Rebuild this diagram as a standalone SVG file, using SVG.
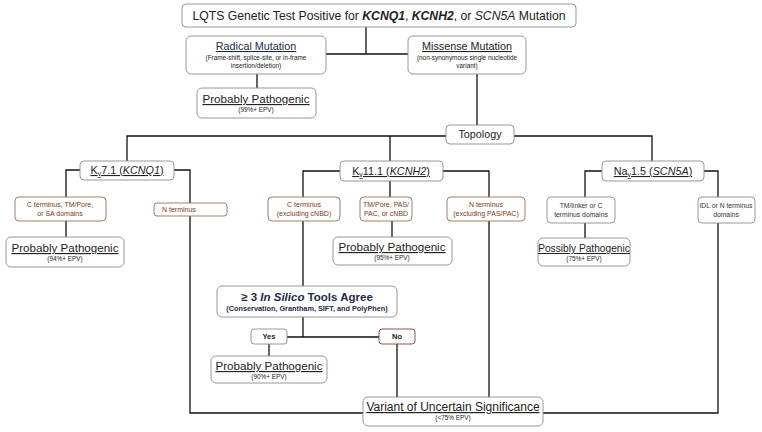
<svg xmlns="http://www.w3.org/2000/svg" width="762" height="432" viewBox="0 0 762 432">
<style>
text{font-family:"Liberation Sans",Arial,sans-serif;fill:#222;text-anchor:middle}
.bx{fill:#fff;stroke:#8c8c8c;stroke-width:0.9}
.br{fill:#fff;stroke:#9b6f55;stroke-width:0.9}
.ln{fill:none;stroke:#111;stroke-width:1.3}
.h{font-size:11.6px;text-decoration:underline}
.s{font-size:6.4px}
.b{font-size:7px;fill:#7a3a12}
.n{font-size:6.8px;fill:#333}
.k{font-size:10.8px;text-decoration:underline}
</style>
<rect width="762" height="432" fill="#fff"/>
<g id="connectors">
<path class="ln" d="M366 27V54M326 54H408M257 74V88M477 74V125"/>
<path class="ln" d="M127 161V136H446M514 136H652V161M390 136V161"/>
<path class="ln" d="M80 170H66V197M66 221V237M174 170H190V413H363"/>
<path class="ln" d="M340 171H303V197M303 221V286M303 317V337M287 337H379M390 181V197M392 221V237M443 171H489V197M489 221V397"/>
<path class="ln" d="M269 344V356M397 344V397"/>
<path class="ln" d="M602 171H585V197M585 223V238M704 171H718V197M718 223V413H543"/>
</g>
<g id="n-top"><rect class="bx" x="182" y="4" width="394" height="23" rx="4"/>
<text x="379" y="20" font-size="12.2">LQTS Genetic Test Positive for <tspan font-weight="bold" font-style="italic">KCNQ1</tspan>, <tspan font-weight="bold" font-style="italic">KCNH2</tspan>, or <tspan font-style="italic">SCN5A</tspan> Mutation</text></g>
<g id="n-radical"><rect class="bx" x="186" y="36" width="140" height="38" rx="5"/>
<text x="256" y="50" font-size="10.8" style="fill:#1c2a4a;text-decoration:underline">Radical Mutation</text>
<text class="s" x="256" y="60">(Frame-shift, splice-site, or in-frame</text>
<text class="s" x="256" y="68">insertion/deletion)</text></g>
<g id="n-missense"><rect class="bx" x="408" y="36" width="118" height="38" rx="5"/>
<text x="467" y="50" font-size="10.8" style="text-decoration:underline">Missense Mutation</text>
<text class="s" x="467" y="60">(non-synonymous single nucleotide</text>
<text class="s" x="467" y="68">variant)</text></g>
<g id="n-pp99"><rect class="bx" x="197" y="88" width="119" height="30" rx="5"/>
<text class="h" x="256" y="103">Probably Pathogenic</text>
<text class="s" x="256" y="112">(99%+ EPV)</text></g>
<g id="n-topology"><rect class="bx" x="446" y="125" width="68" height="19" rx="4"/>
<text x="480" y="138" font-size="10.8">Topology</text></g>
<g id="n-kv71"><rect class="bx" x="80" y="161" width="94" height="19" rx="4"/>
<text class="k" x="127" y="174">K<tspan font-size="7" dy="2">v</tspan><tspan dy="-2">7.1 (</tspan><tspan font-style="italic">KCNQ1</tspan>)</text></g>
<g id="n-kv111"><rect class="bx" x="340" y="161" width="103" height="20" rx="4"/>
<text class="k" x="391" y="175">K<tspan font-size="7" dy="2">v</tspan><tspan dy="-2">11.1 (</tspan><tspan font-style="italic">KCNH2</tspan>)</text></g>
<g id="n-nav15"><rect class="bx" x="602" y="161" width="102" height="20" rx="4"/>
<text class="k" x="653" y="175">Na<tspan font-size="7" dy="2">v</tspan><tspan dy="-2">1.5 (</tspan><tspan font-style="italic">SCN5A</tspan>)</text></g>
<g id="n-kv71-c"><rect class="br" x="15" y="197" width="91" height="24" rx="4"/>
<text class="b" x="60" y="207">C terminus, TM/Pore,</text>
<text class="b" x="60" y="216">or SA domains</text></g>
<g id="n-kv71-n"><rect class="br" x="154" y="203" width="73" height="13" rx="3"/>
<text class="b" x="162" y="212" style="text-anchor:start">N terminus</text></g>
<g id="n-pp94"><rect class="bx" x="6" y="237" width="118" height="30" rx="5"/>
<text class="h" x="65" y="252">Probably Pathogenic</text>
<text class="s" x="65" y="261">(94%+ EPV)</text></g>
<g id="n-kv111-c"><rect class="br" x="268" y="197" width="72" height="24" rx="4"/>
<text class="b" x="304" y="207">C terminus</text>
<text class="b" x="304" y="216">(excluding cNBD)</text></g>
<g id="n-kv111-tm"><rect class="br" x="360" y="197" width="52" height="24" rx="4"/>
<text class="b" x="386" y="207">TM/Pore, PAS/</text>
<text class="b" x="386" y="216">PAC, or cNBD</text></g>
<g id="n-kv111-n"><rect class="br" x="447" y="197" width="78" height="24" rx="4"/>
<text class="b" x="486" y="207">N terminus</text>
<text class="b" x="486" y="216">(excluding PAS/PAC)</text></g>
<g id="n-pp95"><rect class="bx" x="333" y="237" width="119" height="28" rx="5"/>
<text class="h" x="392" y="251">Probably Pathogenic</text>
<text class="s" x="392" y="260">(95%+ EPV)</text></g>
<g id="n-nav-tm"><rect class="bx" x="547" y="197" width="68" height="26" rx="4"/>
<text class="n" x="581" y="208">TM/linker or C</text>
<text class="n" x="581" y="217">terminus domains</text></g>
<g id="n-nav-idl"><rect class="bx" x="698" y="197" width="57" height="26" rx="4"/>
<text class="n" x="726" y="208">IDL or N terminus</text>
<text class="n" x="726" y="217">domains</text></g>
<g id="n-possibly"><rect class="bx" x="538" y="238" width="92" height="28" rx="5"/>
<text x="584" y="252" font-size="10.2" style="text-decoration:underline">Possibly Pathogenic</text>
<text class="s" x="584" y="261">(75%+ EPV)</text></g>
<g id="n-insilico"><rect class="bx" x="217" y="286" width="180" height="31" rx="5"/>
<text x="307" y="301" font-size="11.5" font-weight="bold" style="fill:#1c2a4a">≥ 3 <tspan font-style="italic">In Silico</tspan> Tools Agree</text>
<text x="307" y="311" font-size="7.3" font-weight="bold" style="fill:#1c2a4a">(Conservation, Grantham, SIFT, and PolyPhen)</text></g>
<g id="n-yes"><rect class="bx" x="251" y="329" width="36" height="15" rx="3"/>
<text x="269" y="339" font-size="7.5" font-weight="bold">Yes</text></g>
<g id="n-no"><rect class="br" x="379" y="329" width="36" height="15" rx="3" style="stroke:#8b3a3a"/>
<text x="397" y="339" font-size="7.5" font-weight="bold">No</text></g>
<g id="n-pp90"><rect class="bx" x="211" y="356" width="116" height="27" rx="5"/>
<text class="h" x="269" y="370">Probably Pathogenic</text>
<text class="s" x="269" y="379">(90%+ EPV)</text></g>
<g id="n-vus"><rect class="bx" x="363" y="397" width="180" height="29" rx="5"/>
<text x="453" y="411" font-size="12" style="text-decoration:underline">Variant of Uncertain Significance</text>
<text class="s" x="453" y="420">(&lt;75% EPV)</text></g>
</svg>
